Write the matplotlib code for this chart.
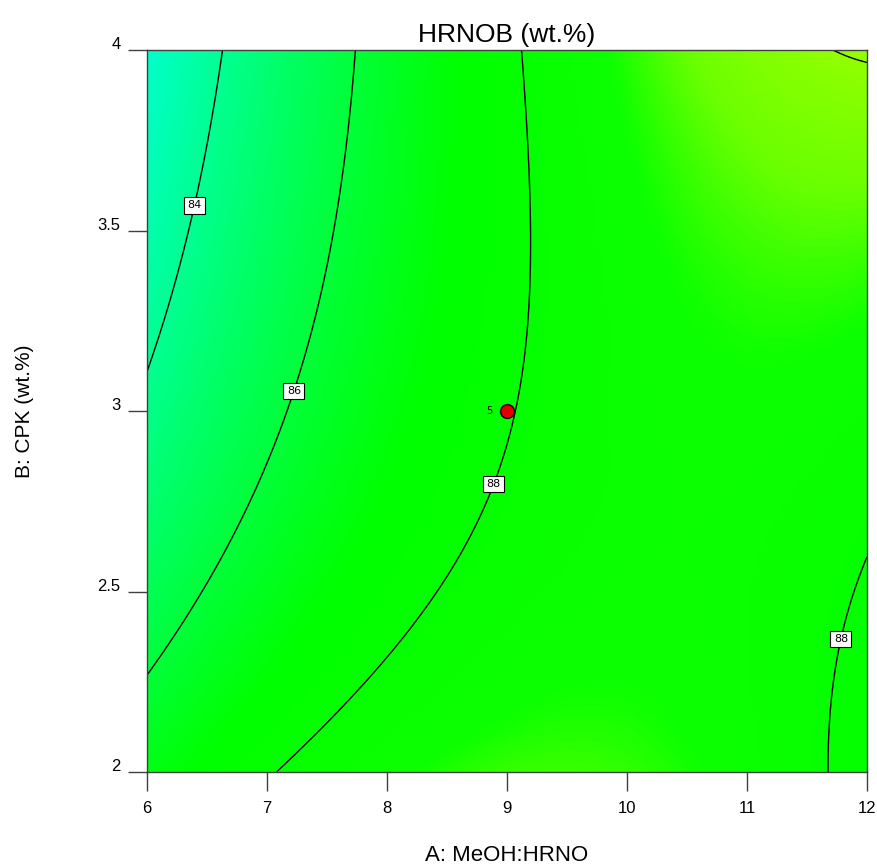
import numpy as np
import matplotlib
matplotlib.use("Agg")
import matplotlib.pyplot as plt
from matplotlib.colors import LinearSegmentedColormap
from matplotlib.transforms import ScaledTranslation

a_levels = [6, 7, 8, 9, 10, 11, 12]          # A: MeOH:HRNO
b_levels = [2.0, 2.5, 3.0, 3.5, 4.0]         # B: CPK (wt.%)

# HRNOB (wt.%) estimated at each (B, A) pair, one row per B level
hrnob = [
    [86.7, 87.95, 88.6, 89.05, 89.1, 88.55, 87.7],   # B = 2.0
    [85.7, 86.7, 87.65, 88.35, 88.75, 88.45, 87.7],  # B = 2.5
    [84.05, 85.8, 86.9, 87.8, 88.45, 88.75, 88.5],   # B = 3.0
    [83.3, 85.2, 86.65, 87.75, 88.7, 89.15, 89.35],  # B = 3.5
    [82.7, 84.7, 86.5, 87.95, 88.95, 89.5, 90.05],   # B = 4.0
]

contour_levels = [84, 86, 88, 90]
label_spots = [(6.40, 3.57), (7.18, 3.06), (8.95, 2.79), (11.76, 2.37)]

design_pt = (9, 3)
design_runs = "5"


def terms(a, b):
    # coded factors, full cubic model
    x = (np.asarray(a) - 9.0) / 3.0
    y = (np.asarray(b) - 3.0) / 1.0
    return np.stack([np.ones_like(x), x, y, x * x, x * y, y * y,
                     x ** 3, x * x * y, x * y * y, y ** 3], axis=-1)


# fit a smooth response surface through the read values
AA, BB = np.meshgrid(a_levels, b_levels)
coef, *_ = np.linalg.lstsq(terms(AA.ravel(), BB.ravel()),
                           np.asarray(hrnob).ravel(), rcond=None)

ga = np.linspace(6, 12, 400)
gb = np.linspace(2, 4, 400)
GA, GB = np.meshgrid(ga, gb)
Z = terms(GA, GB) @ coef

# Design-Expert style colour ramp (cyan -> green -> yellow)
vmin, vmax = 81.5, 91.0
nodes = [(81.5, (0, 1, 1)), (87.3, (0, 1, 0)), (88.8, (0.05, 1, 0)),
         (89.4, (0.42, 1, 0)), (91.0, (0.8, 1, 0))]
cmap = LinearSegmentedColormap.from_list(
    "de", [((v - vmin) / (vmax - vmin), c) for v, c in nodes])

fig = plt.figure(figsize=(8.77, 8.66), dpi=100)
ax = fig.add_axes([0.1676, 0.1085, 0.821, 0.8337])

ax.imshow(Z, extent=(6, 12, 2, 4), origin="lower", aspect="auto",
          cmap=cmap, vmin=vmin, vmax=vmax, interpolation="bilinear")
cs = ax.contour(GA, GB, Z, levels=contour_levels, colors="black", linewidths=1.0)
labels = ax.clabel(cs, contour_levels, manual=label_spots, inline=False,
                   fontsize=8, fmt="%d")
for t in labels:
    t.set_rotation(0)
    t.set_bbox(dict(facecolor="white", edgecolor="black",
                    boxstyle="square,pad=0.3", linewidth=0.8))

ax.plot(*design_pt, "o", ms=10, mfc="#e00000", mec="black", mew=1, zorder=5)
ax.annotate(design_runs, design_pt, xytext=(-13, 0), textcoords="offset points",
            fontsize=7, ha="center", va="center")

ax.set_xlim(6, 12)
ax.set_ylim(2, 4)
ax.set_xticks(a_levels)
ax.set_xticklabels([str(v) for v in a_levels])
ax.set_yticks(b_levels)
ax.set_yticklabels(["2", "2.5", "3", "3.5", "4"])

font = "Liberation Sans"
ax.tick_params(direction="out", length=14, width=1, colors="#404040",
               labelcolor="black", labelsize=12, pad=7)
ax.tick_params(axis="y", pad=5)
for lab in ax.get_xticklabels() + ax.get_yticklabels():
    lab.set_fontfamily(font)
for lab in ax.get_yticklabels():
    lab.set_transform(lab.get_transform() + ScaledTranslation(0, 5 / 72, fig.dpi_scale_trans))
for s in ax.spines.values():
    s.set_color("#404040")
    s.set_linewidth(1)

ax.set_title("HRNOB (wt.%)", fontsize=19, fontfamily=font, pad=6)
ax.set_xlabel("A: MeOH:HRNO", fontsize=16, fontfamily=font, labelpad=21)
ax.set_ylabel("B: CPK (wt.%)", fontsize=15, fontfamily=font, labelpad=46)

fig.savefig("out.png", dpi=100)
